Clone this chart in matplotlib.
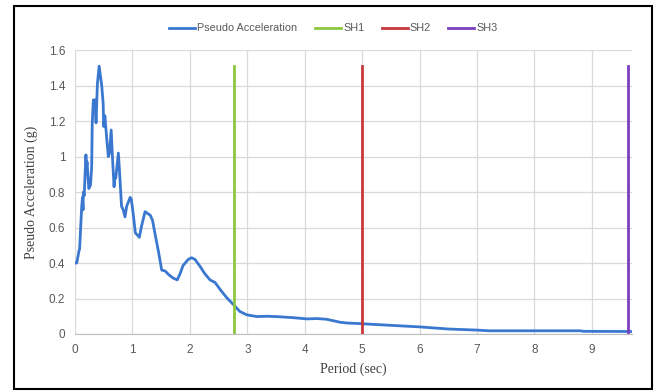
import numpy as np
import matplotlib.pyplot as plt
from matplotlib.patches import Rectangle

# spectrum
period = [0.0, 0.03, 0.07, 0.08, 0.116, 0.13, 0.14, 0.145, 0.16, 0.19, 0.20, 0.21,
          0.24, 0.27, 0.29, 0.30, 0.32, 0.337, 0.348, 0.366, 0.39, 0.42, 0.465, 0.49,
          0.50, 0.52, 0.55, 0.58, 0.60, 0.63, 0.65, 0.68, 0.69, 0.71, 0.755, 0.78,
          0.81, 0.84, 0.87, 0.90, 0.96, 0.98, 1.02, 1.05, 1.08, 1.12, 1.16, 1.22,
          1.26, 1.31, 1.35, 1.39, 1.45, 1.51, 1.57, 1.63, 1.71, 1.78, 1.83, 1.88,
          1.97, 2.03, 2.09, 2.18, 2.26, 2.35, 2.44, 2.53, 2.64, 2.76, 2.87, 2.99,
          3.17, 3.34, 3.51, 3.80, 4.04, 4.21, 4.38, 4.62, 4.73, 4.99, 5.2, 6.0,
          6.5, 7.0, 7.2, 8.8, 8.85, 9.7]
psa = [0.40, 0.40, 0.47, 0.48, 0.715, 0.77, 0.70, 0.80, 0.78, 1.01, 0.94, 0.97,
       0.82, 0.84, 0.94, 1.19, 1.32, 1.26, 1.32, 1.19, 1.41, 1.51, 1.40, 1.30,
       1.17, 1.23, 1.11, 1.00, 1.02, 1.15, 1.01, 0.83, 0.87, 0.88, 1.02, 0.89,
       0.72, 0.70, 0.66, 0.72, 0.77, 0.76, 0.66, 0.57, 0.56, 0.545, 0.61, 0.69,
       0.68, 0.67, 0.64, 0.57, 0.47, 0.36, 0.355, 0.335, 0.315, 0.305, 0.34, 0.385,
       0.42, 0.43, 0.42, 0.38, 0.34, 0.305, 0.29, 0.25, 0.205, 0.165, 0.127, 0.108,
       0.098, 0.10, 0.098, 0.092, 0.085, 0.087, 0.083, 0.066, 0.062, 0.058, 0.054, 0.04,
       0.028, 0.022, 0.018, 0.018, 0.015, 0.014]

sh_names = ["SH1", "SH2", "SH3"]
sh_period = [2.77, 5.0, 9.63]
sh_top = 1.51
sh_colors = ["#8DC63F", "#C8373A", "#7B3FBF"]

fig = plt.figure(figsize=(6.54, 3.92), dpi=100)
ax = fig.add_axes([0.1147, 0.148, 0.8517, 0.724])

ax.plot(period, psa, color="#3A78D0", lw=2.0, label="Pseudo Acceleration")
for name, p, c in zip(sh_names, sh_period, sh_colors):
    ax.plot([p, p], [0, sh_top], color=c, lw=2.0, label=name)

ax.set_xlim(0, 9.7)
ax.set_ylim(0, 1.6)
ax.set_xticks(range(10))
ax.set_yticks(np.arange(0, 1.61, 0.2))
ax.set_yticklabels(["0", "0.2", "0.4", "0.6", "0.8", "1", "1.2", "1.4", "1.6"])
ax.grid(True, color="#D9D9D9", lw=0.9)
ax.set_axisbelow(True)
for s in ["top", "right", "left"]:
    ax.spines[s].set_visible(False)
ax.spines["bottom"].set_color("#BFBFBF")
ax.tick_params(length=0, labelcolor="#595959", pad=7)
for lab in ax.get_xticklabels() + ax.get_yticklabels():
    lab.set_family("Liberation Sans")
    lab.set_fontsize(8.5)

ax.set_xlabel("Period (sec)", family="Liberation Serif", fontsize=10, color="#404040", labelpad=5)
ax.set_ylabel("Pseudo Acceleration (g)", family="Liberation Serif", fontsize=10, color="#404040", labelpad=8)

fig.legend(loc="upper center", bbox_to_anchor=(0.51, 0.965), ncol=4, frameon=False,
           prop={"family": "Liberation Sans", "size": 7.8},
           labelcolor="#595959", handlelength=2.4, columnspacing=1.6,
           handletextpad=0.2)

fig.patches.append(Rectangle((0.0214, 0.0077), 0.9755, 0.977, transform=fig.transFigure,
                             fill=False, edgecolor="black", lw=1.5))

fig.savefig("out.png", dpi=100)
